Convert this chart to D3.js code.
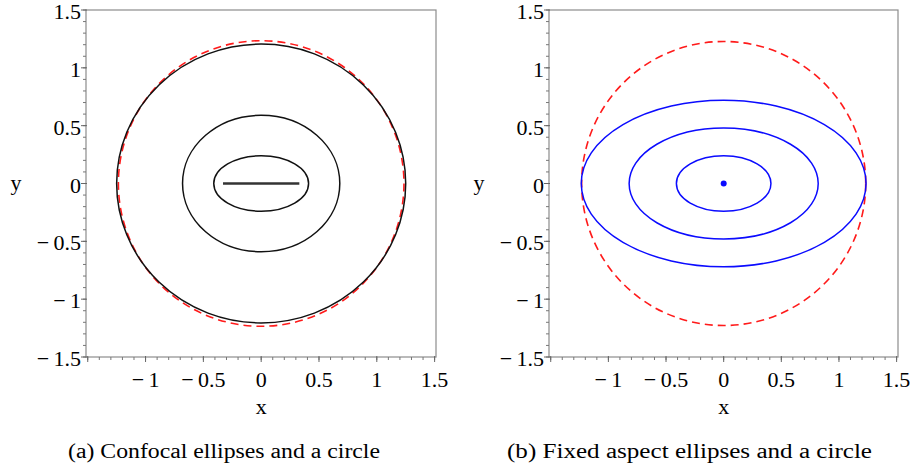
<!DOCTYPE html>
<html>
<head>
<meta charset="utf-8">
<script src="https://cdn.jsdelivr.net/npm/d3@7"></script>
<style>
  html, body { margin: 0; padding: 0; background: #fff; }
  svg { display: block; }
</style>
</head>
<body>
<svg id="chart" width="911" height="470"></svg>
<script>
// ---------- data ----------
const panelTitles = ["(a) Confocal ellipses and a circle", "(b) Fixed aspect ellipses and a circle"];
const majorTicks = [-1.5, -1, -0.5, 0, 0.5, 1, 1.5];
const xTickLabels = ["", "\u2212\u20091", "\u2212\u20090.5", "0", "0.5", "1", "1.5"];
const yTickLabels = ["\u2212\u20091.5", "\u2212\u20091", "\u2212\u20090.5", "0", "0.5", "1", "1.5"];
const minorTicks = [-1.5,-1.4,-1.3,-1.2,-1.1,-1,-0.9,-0.8,-0.7,-0.6,-0.5,-0.4,-0.3,-0.2,-0.1,0,0.1,0.2,0.3,0.4,0.5,0.6,0.7,0.8,0.9,1,1.1,1.2,1.3,1.4,1.5];

// panel (a): confocal ellipses (semi-axes a, b), degenerate segment and circle
const confocalA = [0.41, 0.68, 1.25];
const confocalB = [0.24, 0.59, 1.205];
const focalSegment = [-0.33, 0.33];
const circleA = 1.235;

// panel (b): fixed-aspect ellipses, centre point and circle
const aspectA = [0.41, 0.82, 1.235];
const aspectB = [0.24, 0.48, 0.72];
const centrePoint = [0, 0];
const circleB = 1.232;

// ---------- drawing ----------
const svg = d3.select("#chart");
const FONT = "Liberation Serif, Times New Roman, DejaVu Serif, serif";

function panel(left, right, top, bottom) {
  const x = d3.scaleLinear().domain([-1.515, 1.512]).range([left, right]);
  const y = d3.scaleLinear().domain([-1.5, 1.5]).range([bottom, top]);
  const g = svg.append("g").attr("font-family", FONT);

  // frame
  g.append("rect").attr("x", left).attr("y", top)
    .attr("width", right - left).attr("height", bottom - top)
    .attr("fill", "none").attr("stroke", "#8c8c8c").attr("stroke-width", 1.2);

  // x minor/major ticks
  g.selectAll(".xm").data(minorTicks).enter().append("line")
    .attr("x1", d => x(d)).attr("x2", d => x(d))
    .attr("y1", bottom).attr("y2", bottom + 3)
    .attr("stroke", "#777").attr("stroke-width", 1);
  g.selectAll(".xM").data(majorTicks).enter().append("line")
    .attr("x1", d => x(d)).attr("x2", d => x(d))
    .attr("y1", bottom - 1).attr("y2", bottom + 5)
    .attr("stroke", "#666").attr("stroke-width", 1);
  // y ticks
  g.selectAll(".ym").data(minorTicks).enter().append("line")
    .attr("y1", d => y(d)).attr("y2", d => y(d))
    .attr("x1", left).attr("x2", left - 3)
    .attr("stroke", "#777").attr("stroke-width", 1);
  g.selectAll(".yM").data(majorTicks).enter().append("line")
    .attr("y1", d => y(d)).attr("y2", d => y(d))
    .attr("x1", left + 1).attr("x2", left - 5)
    .attr("stroke", "#666").attr("stroke-width", 1);

  // tick labels
  g.selectAll(".xl").data(majorTicks).enter().append("text")
    .attr("x", d => x(d)).attr("y", bottom + 30)
    .attr("text-anchor", "middle").attr("font-size", 22).attr("fill", "#000")
    .text((d, i) => xTickLabels[i]);
  g.selectAll(".yl").data(majorTicks).enter().append("text")
    .attr("x", left - 5).attr("y", d => y(d) + 9)
    .attr("text-anchor", "end").attr("font-size", 22).attr("fill", "#000")
    .text((d, i) => yTickLabels[i]);

  // axis titles
  g.append("text").attr("x", x(0)).attr("y", bottom + 57)
    .attr("text-anchor", "middle").attr("font-size", 22).text("x");
  g.append("text").attr("x", left - 70).attr("y", y(0) + 6)
    .attr("text-anchor", "middle").attr("font-size", 22).text("y");

  return { g, x, y };
}

// Panel (a)
{
  const { g, x, y } = panel(86, 436, 10, 357);
  g.append("circle")
    .attr("cx", x(0)).attr("cy", y(0))
    .attr("r", x(circleA) - x(0))
    .attr("fill", "none").attr("stroke", "#ff1a1a").attr("stroke-width", 1.6)
    .attr("stroke-dasharray", "8,5");
  g.selectAll(".ell").data(confocalA).enter().append("ellipse")
    .attr("cx", x(0)).attr("cy", y(0))
    .attr("rx", d => x(d) - x(0))
    .attr("ry", (d, i) => y(0) - y(confocalB[i]))
    .attr("fill", "none").attr("stroke", "#111").attr("stroke-width", 1.5);
  g.append("line")
    .attr("x1", x(focalSegment[0])).attr("x2", x(focalSegment[1]))
    .attr("y1", y(0)).attr("y2", y(0))
    .attr("stroke", "#333").attr("stroke-width", 2.6);
  svg.append("text").attr("x", 68).attr("y", 458)
    .attr("font-family", FONT).attr("font-size", 20)
    .attr("textLength", 312).attr("lengthAdjust", "spacingAndGlyphs")
    .text(panelTitles[0]);
}

// Panel (b)
{
  const { g, x, y } = panel(549, 898, 10, 357);
  g.append("circle")
    .attr("cx", x(0)).attr("cy", y(0))
    .attr("r", x(circleB) - x(0))
    .attr("fill", "none").attr("stroke", "#ff1a1a").attr("stroke-width", 1.6)
    .attr("stroke-dasharray", "8,5");
  g.selectAll(".ell").data(aspectA).enter().append("ellipse")
    .attr("cx", x(0)).attr("cy", y(0))
    .attr("rx", d => x(d) - x(0))
    .attr("ry", (d, i) => y(0) - y(aspectB[i]))
    .attr("fill", "none").attr("stroke", "#0b0bff").attr("stroke-width", 1.5);
  g.append("circle")
    .attr("cx", x(centrePoint[0])).attr("cy", y(centrePoint[1]))
    .attr("r", 3).attr("fill", "#0b0bff");
  svg.append("text").attr("x", 507).attr("y", 458)
    .attr("font-family", FONT).attr("font-size", 20)
    .attr("textLength", 365).attr("lengthAdjust", "spacingAndGlyphs")
    .text(panelTitles[1]);
}
</script>
</body>
</html>
